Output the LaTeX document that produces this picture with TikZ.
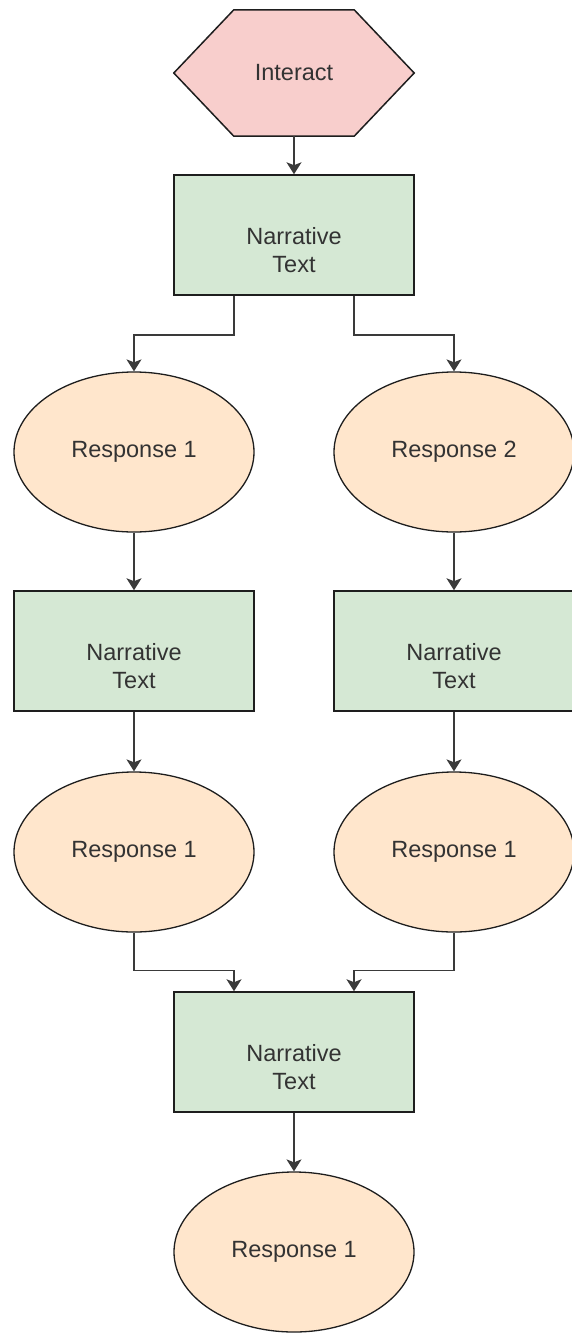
\documentclass[tikz,border=0pt]{standalone}
\usepackage{fontspec}
\setmainfont{Liberation Sans}
\usetikzlibrary{arrows.meta,backgrounds,shapes.geometric}

\definecolor{hexfill}{HTML}{F8CECC}
\definecolor{textfill}{HTML}{D5E8D4}
\definecolor{respfill}{HTML}{FFE6CC}
\definecolor{edgecol}{HTML}{1E1E1E}
\definecolor{linecol}{HTML}{3A3A3A}
\definecolor{labelcol}{HTML}{333333}

% two-line box label, set one line below the box centre
\newcommand{\narrlabel}{\strut\\Narrative\\Text}

\tikzset{
  base/.style={inner sep=0pt, align=center, text=labelcol,
    font=\fontsize{23.5}{28}\selectfont},
  hexnode/.style={base, minimum width=240pt, minimum height=126pt},
  hexshape/.style={draw=edgecol, fill=hexfill, line width=1.5pt, line join=miter},
  narrbox/.style={base, rectangle, draw=edgecol, fill=textfill, line width=1.5pt,
    minimum width=240pt, minimum height=120pt},
  respnode/.style={base, ellipse, draw=edgecol, fill=respfill, line width=1.3pt,
    minimum width=240pt, minimum height=160pt},
  conn/.style={draw=linecol, line width=1.5pt,
    -{Stealth[length=12pt,width=15pt,inset=3pt]}}
}

\begin{document}
\begin{tikzpicture}[x=1pt,y=-1pt]
  \useasboundingbox (0,0) rectangle (572,1338);

  % start of the story
  \node[hexnode] (interact) at (294,73) {Interact};
  \begin{scope}[on background layer]
    \draw[hexshape] (interact.west)
      -- ([xshift=60pt]interact.north west)
      -- ([xshift=-60pt]interact.north east)
      -- (interact.east)
      -- ([xshift=-60pt]interact.south east)
      -- ([xshift=60pt]interact.south west)
      -- cycle;
  \end{scope}

  \node[narrbox] (nt1) at (294,235) {\narrlabel};

  % two branches
  \node[respnode] (r1L) at (134,452) {Response 1};
  \node[respnode] (r1R) at (454,452) {Response 2};

  \node[narrbox] (nt2L) at (134,651) {\narrlabel};
  \node[narrbox] (nt2R) at (454,651) {\narrlabel};

  \node[respnode] (r2L) at (134,852) {Response 1};
  \node[respnode] (r2R) at (454,852) {Response 1};

  % branches merge again
  \node[narrbox] (nt3) at (294,1052) {\narrlabel};
  \node[respnode] (r3) at (294,1252) {Response 1};

  % connectors
  \draw[conn] (interact.south) -- (nt1.north);
  \draw[conn] ([xshift=-60pt]nt1.south) -- ++(0,39) -| (r1L.north);
  \draw[conn] ([xshift=60pt]nt1.south) -- ++(0,39) -| (r1R.north);

  \draw[conn] (r1L.south) -- (nt2L.north);
  \draw[conn] (r1R.south) -- (nt2R.north);
  \draw[conn] (nt2L.south) -- (r2L.north);
  \draw[conn] (nt2R.south) -- (r2R.north);

  \draw[conn] (r2L.south) -- ++(0,38) -| ([xshift=-60pt]nt3.north);
  \draw[conn] (r2R.south) -- ++(0,38) -| ([xshift=60pt]nt3.north);

  \draw[conn] (nt3.south) -- (r3.north);
\end{tikzpicture}
\end{document}
